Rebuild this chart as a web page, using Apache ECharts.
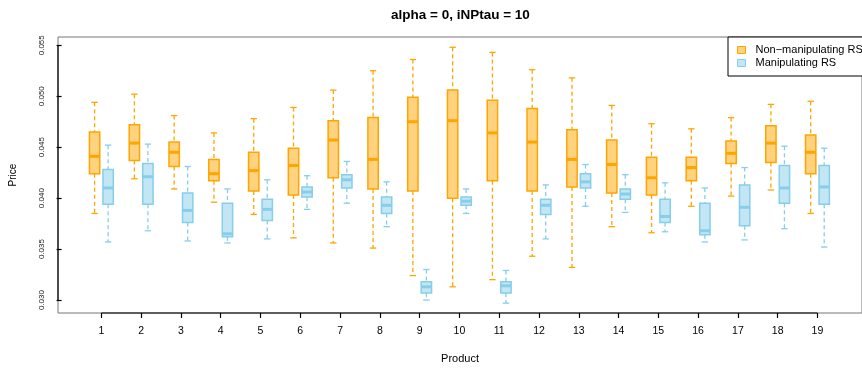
<!DOCTYPE html>
<html>
<head>
<meta charset="utf-8">
<script src="https://cdn.jsdelivr.net/npm/echarts@6/dist/echarts.min.js"></script>
<style>
html,body{margin:0;padding:0;background:#fff;}
#chart{width:862px;height:369px;}
</style>
</head>
<body>
<div id="chart"></div>
<script>
// ---- data ----
const products = [1,2,3,4,5,6,7,8,9,10,11,12,13,14,15,16,17,18,19];
const yTicks = [0.030,0.035,0.040,0.045,0.050,0.055];
const seriesNames = ['Non\u2212manipulating RS','Manipulating RS'];

// Non-manipulating RS
const nmLow  = [0.0385,0.0419,0.0409,0.0396,0.0384,0.0361,0.0356,0.0351,0.0324,0.0313,0.0320,0.0343,0.0332,0.0372,0.0366,0.0392,0.0402,0.0408,0.0385];
const nmQ1   = [0.0424,0.0437,0.0431,0.0417,0.0407,0.0403,0.0420,0.0409,0.0407,0.0400,0.0417,0.0407,0.0411,0.0405,0.0403,0.0417,0.0434,0.0435,0.0424];
const nmMed  = [0.0441,0.0454,0.0445,0.0424,0.0427,0.0432,0.0457,0.0438,0.0475,0.0476,0.0464,0.0455,0.0438,0.0433,0.0420,0.0430,0.0444,0.0454,0.0445];
const nmQ3   = [0.0465,0.0472,0.0455,0.0438,0.0445,0.0449,0.0476,0.0479,0.0499,0.0506,0.0496,0.0488,0.0467,0.0457,0.0440,0.0440,0.0456,0.0471,0.0462];
const nmHigh = [0.0494,0.0502,0.0481,0.0464,0.0478,0.0489,0.0506,0.0525,0.0536,0.0548,0.0543,0.0526,0.0518,0.0491,0.0473,0.0468,0.0479,0.0492,0.0495];

// Manipulating RS
const mLow  = [0.0357,0.0368,0.0358,0.0356,0.0360,0.0389,0.0395,0.0372,0.0300,0.0385,0.0297,0.0360,0.0392,0.0386,0.0367,0.0357,0.0359,0.0370,0.0352];
const mQ1   = [0.0394,0.0394,0.0376,0.0362,0.0378,0.0401,0.0410,0.0385,0.0307,0.0393,0.0307,0.0384,0.0410,0.0399,0.0376,0.0364,0.0373,0.0395,0.0394];
const mMed  = [0.0410,0.0421,0.0388,0.0365,0.0389,0.0406,0.0418,0.0393,0.0313,0.0397,0.0314,0.0393,0.0416,0.0404,0.0382,0.0368,0.0391,0.0410,0.0411];
const mQ3   = [0.0428,0.0434,0.0405,0.0395,0.0399,0.0411,0.0423,0.0401,0.0318,0.0401,0.0318,0.0399,0.0424,0.0409,0.0399,0.0395,0.0413,0.0432,0.0432];
const mHigh = [0.0452,0.0453,0.0431,0.0409,0.0418,0.0422,0.0436,0.0416,0.0330,0.0409,0.0329,0.0413,0.0433,0.0423,0.0415,0.0410,0.0430,0.0451,0.0449];

// ---- styling ----
const FONT = "'Liberation Sans', Arial, Helvetica, sans-serif";
const X_MIN = -0.09, X_MAX = 20.12;
const Y_MIN = 0.02873, Y_MAX = 0.05581;
const ORANGE = '#FFA500', ORANGE_FILL = 'rgba(255,165,0,0.5)';
const BLUE = '#87CEEB', BLUE_FILL = 'rgba(135,206,235,0.5)';
const BOX_HALF = 0.13, CAP_HALF = 0.08, OFFSET = 0.17;

function buildData(lo, q1, md, q3, hi) {
  return products.map((p, i) => [p, lo[i], q1[i], md[i], q3[i], hi[i]]);
}

function makeRender(offset, stroke, fill) {
  return function (params, api) {
    const x = api.value(0) + offset;
    const lo = api.value(1), q1 = api.value(2), md = api.value(3), q3 = api.value(4), hi = api.value(5);
    const tl = api.coord([x - BOX_HALF, q3]);
    const br = api.coord([x + BOX_HALF, q1]);
    const mL = api.coord([x - BOX_HALF, md]);
    const mR = api.coord([x + BOX_HALF, md]);
    const wTop = api.coord([x, hi]);
    const wQ3 = api.coord([x, q3]);
    const wQ1 = api.coord([x, q1]);
    const wBot = api.coord([x, lo]);
    const cTL = api.coord([x - CAP_HALF, hi]);
    const cTR = api.coord([x + CAP_HALF, hi]);
    const cBL = api.coord([x - CAP_HALF, lo]);
    const cBR = api.coord([x + CAP_HALF, lo]);
    const dash = {stroke: stroke, lineWidth: 1.3, lineDash: [4, 3]};
    const solid = {stroke: stroke, lineWidth: 1.3};
    return {
      type: 'group',
      children: [
        {type: 'line', shape: {x1: wTop[0], y1: wTop[1], x2: wQ3[0], y2: wQ3[1]}, style: dash},
        {type: 'line', shape: {x1: wQ1[0], y1: wQ1[1], x2: wBot[0], y2: wBot[1]}, style: dash},
        {type: 'line', shape: {x1: cTL[0], y1: cTL[1], x2: cTR[0], y2: cTR[1]}, style: solid},
        {type: 'line', shape: {x1: cBL[0], y1: cBL[1], x2: cBR[0], y2: cBR[1]}, style: solid},
        {type: 'rect', shape: {x: tl[0], y: tl[1], width: br[0] - tl[0], height: br[1] - tl[1]},
          style: {fill: fill, stroke: stroke, lineWidth: 1.5}},
        {type: 'line', shape: {x1: mL[0], y1: mL[1], x2: mR[0], y2: mR[1]}, style: {stroke: stroke, lineWidth: 3}}
      ]
    };
  };
}

// dark axis segments spanning the tick range (as R's axis())
function renderAxes(params, api) {
  const a = api.coord([products[0], Y_MIN]);
  const b = api.coord([products[products.length - 1], Y_MIN]);
  const c = api.coord([X_MIN, yTicks[0]]);
  const d = api.coord([X_MIN, yTicks[yTicks.length - 1]]);
  return {
    type: 'group',
    children: [
      {type: 'line', shape: {x1: a[0], y1: a[1], x2: b[0], y2: b[1]}, style: {stroke: '#000', lineWidth: 1.2}},
      {type: 'line', shape: {x1: c[0], y1: c[1], x2: d[0], y2: d[1]}, style: {stroke: '#000', lineWidth: 1.2}}
    ]
  };
}

const chart = echarts.init(document.getElementById('chart'), null, {renderer: 'canvas'});
chart.setOption({
  backgroundColor: '#fff',
  animation: false,
  textStyle: {fontFamily: FONT},
  title: {
    text: 'alpha = 0, iNPtau = 10',
    left: 391, top: 8, padding: 0,
    textStyle: {fontFamily: FONT, fontSize: 13.5, fontWeight: 'bold', color: '#000'}
  },
  legend: {
    orient: 'vertical',
    left: 728, top: 37,
    padding: [7, 40, 7, 9],
    itemGap: 1,
    itemWidth: 8, itemHeight: 7,
    borderColor: '#000', borderWidth: 1, borderRadius: 0,
    backgroundColor: '#fff',
    icon: 'rect',
    selectedMode: false,
    textStyle: {fontFamily: FONT, fontSize: 11, color: '#000', lineHeight: 12, padding: [0, 0, 0, 5]},
    data: [
      {name: seriesNames[0], itemStyle: {color: '#FFD280', borderColor: ORANGE, borderWidth: 1}},
      {name: seriesNames[1], itemStyle: {color: '#C3E6F5', borderColor: BLUE, borderWidth: 1}}
    ]
  },
  grid: {
    left: 55, top: 37, width: 815, height: 277,
    show: true, borderColor: '#777', borderWidth: 1, backgroundColor: 'transparent'
  },
  xAxis: {
    type: 'value', min: X_MIN, max: X_MAX,
    name: 'Product', nameLocation: 'middle', nameGap: 40,
    nameTextStyle: {fontFamily: FONT, fontSize: 11, color: '#000'},
    splitLine: {show: false},
    axisLine: {show: false},
    axisTick: {show: true, length: 5, customValues: products, lineStyle: {color: '#000', width: 1.2}},
    axisLabel: {customValues: products, margin: 13, fontSize: 10.5, color: '#000', fontFamily: FONT,
      formatter: v => String(Math.round(v))}
  },
  yAxis: {
    type: 'value', min: Y_MIN, max: Y_MAX,
    name: 'Price', nameLocation: 'middle', nameGap: 40,
    nameTextStyle: {fontFamily: FONT, fontSize: 10, color: '#000'},
    splitLine: {show: false},
    axisLine: {show: false},
    axisTick: {show: true, length: 5, customValues: yTicks, lineStyle: {color: '#000', width: 1.2}},
    axisLabel: {customValues: yTicks, rotate: 90, margin: 12, fontSize: 8, color: '#222', fontFamily: FONT,
      formatter: v => v.toFixed(3)}
  },
  series: [
    {
      name: seriesNames[0], type: 'custom',
      itemStyle: {color: '#FFD280', borderColor: ORANGE},
      renderItem: makeRender(-OFFSET, ORANGE, ORANGE_FILL),
      encode: {x: 0, y: [1, 2, 3, 4, 5]},
      data: buildData(nmLow, nmQ1, nmMed, nmQ3, nmHigh),
      z: 3
    },
    {
      name: seriesNames[1], type: 'custom',
      itemStyle: {color: '#C3E6F5', borderColor: BLUE},
      renderItem: makeRender(OFFSET, BLUE, BLUE_FILL),
      encode: {x: 0, y: [1, 2, 3, 4, 5]},
      data: buildData(mLow, mQ1, mMed, mQ3, mHigh),
      z: 3
    },
    {
      name: 'axes', type: 'custom', silent: true,
      renderItem: renderAxes,
      data: [[products[0], yTicks[0]]],
      z: 4
    }
  ]
});
</script>
</body>
</html>
